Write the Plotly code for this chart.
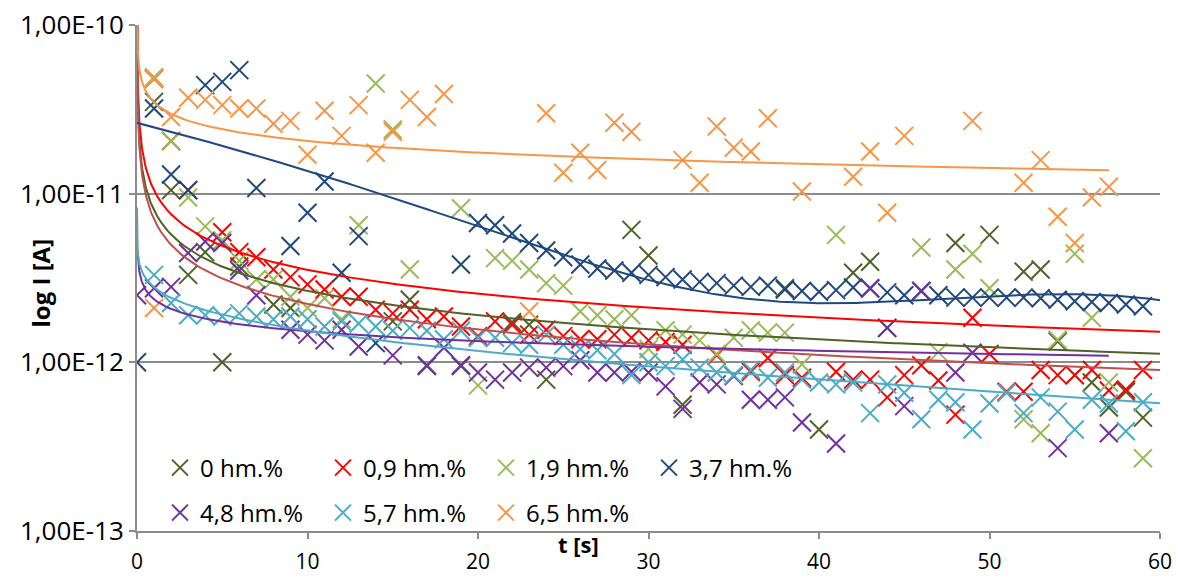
import numpy as np
import plotly.graph_objects as go

# ---------------- data ----------------
names = ["0 hm.%", "0,9 hm.%", "1,9 hm.%", "3,7 hm.%", "4,8 hm.%", "5,7 hm.%", "6,5 hm.%"]
colors = ["#4F6228", "#FF0000", "#9BBB59", "#1F497D", "#7030A0", "#4BACC6", "#F79646"]
trend_colors = ["#4F6228", "#FF0000", "#C0504D", "#1F497D", "#7030A0", "#4BACC6", "#F79646"]

t_0 = [1, 2, 3, 4, 5, 6, 8, 9, 15, 16, 17, 19, 22, 23, 24, 29, 30, 32, 38, 40, 42, 43, 44, 48, 50, 52, 53, 54, 55, 56, 57, 58, 59]
i_0 = [3.5e-11, 1.05e-11, 3.3e-12, 4.5e-12, 1.0e-12, 3.7e-12, 2.2e-12, 2.1e-12, 1.75e-12, 2.35e-12, 9.5e-13, 9.5e-13,
       1.73e-12, 1.67e-12, 7.9e-13, 6.1e-12, 4.3e-12, 5.6e-13, 2.75e-12, 4.0e-13, 3.4e-12, 3.95e-12, 1.6e-12, 5.1e-12,
       5.7e-12, 3.45e-12, 3.55e-12, 1.33e-12, 8.4e-13, 7.6e-13, 5.4e-13, 6.7e-13, 4.7e-13]

t_09 = [1, 2, 3, 5, 6, 7, 8, 9, 10, 11, 12, 13, 14, 15, 16, 17, 18, 19, 20, 21, 22, 23, 24, 25, 26, 27, 28, 29, 30, 31, 32,
        34, 36, 37, 38, 39, 41, 42, 43, 44, 45, 46, 47, 48, 49, 50, 51, 52, 53, 54, 55, 56, 57, 58, 59]
i_09 = [4.8e-11, 2.05e-11, 1.05e-11, 5.9e-12, 4.5e-12, 4.2e-12, 3.55e-12, 3.2e-12, 2.9e-12, 2.7e-12, 2.45e-12, 2.45e-12,
        2.05e-12, 1.95e-12, 2.05e-12, 1.8e-12, 1.87e-12, 1.63e-12, 1.43e-12, 1.75e-12, 1.67e-12, 1.46e-12, 1.56e-12,
        1.43e-12, 1.37e-12, 1.37e-12, 1.46e-12, 1.4e-12, 1.35e-12, 1.32e-12, 1.27e-12, 1.1e-12, 8.8e-13, 1.06e-12,
        8.4e-13, 8.1e-13, 8.8e-13, 7.9e-13, 7.9e-13, 6.2e-13, 8.4e-13, 9.6e-13, 7.8e-13, 4.9e-13, 1.84e-12, 1.12e-12,
        6.7e-13, 6.7e-13, 9.0e-13, 8.4e-13, 8.4e-13, 9.0e-13, 6.8e-13, 6.9e-13, 9.0e-13]

t_19 = [1, 2, 3, 4, 5, 6, 7, 8, 9, 10, 11, 12, 13, 14, 15, 16, 19, 20, 21, 22, 23, 24, 25, 26, 27, 28, 29, 30, 31, 32, 33,
        34, 35, 36, 37, 38, 39, 41, 46, 47, 48, 49, 50, 52, 53, 54, 55, 56, 57, 59]
i_19 = [4.9e-11, 2.05e-11, 9.5e-12, 6.4e-12, 5.3e-12, 4.0e-12, 3.1e-12, 3.1e-12, 2.45e-12, 2.1e-12, 2.4e-12, 1.8e-12,
        6.5e-12, 4.5e-11, 2.4e-11, 3.55e-12, 8.2e-12, 7.3e-13, 4.15e-12, 4.0e-12, 3.55e-12, 2.95e-12, 2.85e-12, 2.0e-12,
        1.9e-12, 1.8e-12, 1.9e-12, 1.2e-12, 1.55e-12, 1.46e-12, 1.35e-12, 1.12e-12, 1.4e-12, 1.55e-12, 1.5e-12, 1.5e-12,
        9.7e-13, 5.7e-12, 4.8e-12, 1.15e-12, 3.55e-12, 4.4e-12, 2.75e-12, 4.6e-13, 3.8e-13, 1.36e-12, 4.4e-12, 1.84e-12,
        7.6e-13, 2.7e-13]

t_37 = [0, 1, 2, 3, 4, 5, 6, 7, 9, 10, 11, 12, 13, 14, 19, 20, 21, 22, 23, 24, 25, 26, 27, 28, 29, 30, 31, 32, 33, 34, 35,
        36, 37, 38, 39, 40, 41, 42, 43, 44, 45, 46, 47, 48, 49, 50, 51, 52, 53, 54, 55, 56, 57, 58, 59]
i_37 = [1.0e-12, 3.2e-11, 1.3e-11, 1.05e-11, 4.4e-11, 4.6e-11, 5.4e-11, 1.08e-11, 4.9e-12, 7.7e-12, 1.18e-11, 3.4e-12,
        5.6e-12, 1.3e-12, 3.8e-12, 6.7e-12, 6.5e-12, 5.8e-12, 5.1e-12, 4.6e-12, 4.2e-12, 3.8e-12, 3.6e-12, 3.5e-12,
        3.4e-12, 3.3e-12, 3.2e-12, 3.1e-12, 3.0e-12, 2.95e-12, 2.85e-12, 2.8e-12, 2.85e-12, 2.7e-12, 2.65e-12, 2.62e-12,
        2.68e-12, 2.78e-12, 2.74e-12, 2.6e-12, 2.5e-12, 2.65e-12, 2.5e-12, 2.42e-12, 2.42e-12, 2.42e-12, 2.42e-12,
        2.42e-12, 2.4e-12, 2.35e-12, 2.3e-12, 2.28e-12, 2.25e-12, 2.2e-12, 2.15e-12]

t_48 = [0, 1, 2, 3, 4, 5, 6, 7, 9, 10, 11, 12, 13, 15, 17, 18, 19, 20, 21, 22, 23, 24, 25, 26, 27, 28, 29, 30, 31, 32, 33,
        34, 35, 36, 37, 38, 39, 41, 43, 44, 45, 46, 48, 49, 54, 57]
i_48 = [2.5e-12, 2.75e-12, 2.8e-12, 4.45e-12, 5.2e-12, 5.1e-12, 3.5e-12, 2.5e-12, 1.56e-12, 1.46e-12, 1.35e-12, 1.56e-12,
        1.24e-12, 1.1e-12, 9.6e-13, 1.22e-12, 9.6e-13, 8.7e-13, 7.9e-13, 8.7e-13, 9.3e-13, 9.3e-13, 9.5e-13, 1.03e-12,
        8.7e-13, 8.7e-13, 8.8e-13, 8.7e-13, 7.2e-13, 5.3e-13, 7.6e-13, 7.4e-13, 8.3e-13, 6.0e-13, 6.0e-13, 6.2e-13,
        4.4e-13, 3.3e-13, 2.75e-12, 1.6e-12, 5.5e-13, 2.65e-12, 8.7e-13, 1.14e-12, 3.1e-13, 3.8e-13]

t_57 = list(range(1, 60))
i_57 = [3.3e-12, 2.25e-12, 1.9e-12, 1.9e-12, 1.87e-12, 1.95e-12, 1.87e-12, 1.8e-12, 1.87e-12, 1.8e-12,
        1.63e-12, 1.75e-12, 1.7e-12, 1.63e-12, 1.54e-12, 1.6e-12, 1.54e-12, 1.37e-12, 1.54e-12, 1.4e-12,
        1.4e-12, 1.3e-12, 1.27e-12, 1.46e-12, 1.27e-12, 1.2e-12, 1.18e-12, 1.12e-12, 8.4e-13, 1.0e-12,
        9.5e-13, 1.04e-12, 9.3e-13, 8.7e-13, 8.4e-13, 9.0e-13, 8.1e-13, 8.7e-13, 7.9e-13, 7.6e-13,
        7.4e-13, 7.6e-13, 5.0e-13, 7.4e-13, 6.6e-13, 4.6e-13, 6.0e-13, 5.8e-13, 4.0e-13, 5.7e-13,
        6.6e-13, 5.0e-13, 6.2e-13, 5.1e-13, 4.0e-13, 6.0e-13, 5.7e-13, 3.9e-13, 5.8e-13]

t_65 = [1, 1, 2, 3, 4, 5, 6, 7, 8, 9, 10, 11, 12, 13, 14, 15, 16, 17, 18, 23, 24, 25, 26, 27, 28, 29, 32, 33, 34, 35, 36,
        37, 39, 42, 43, 44, 45, 49, 52, 53, 54, 55, 56, 57]
i_65 = [4.8e-11, 2.1e-12, 2.85e-11, 3.7e-11, 3.6e-11, 3.35e-11, 3.2e-11, 3.2e-11, 2.6e-11, 2.7e-11, 1.7e-11, 3.1e-11,
        2.2e-11, 3.35e-11, 1.75e-11, 2.33e-11, 3.6e-11, 2.85e-11, 3.9e-11, 2.0e-12, 3.0e-11, 1.33e-11, 1.75e-11,
        1.38e-11, 2.63e-11, 2.33e-11, 1.58e-11, 1.16e-11, 2.5e-11, 1.87e-11, 1.78e-11, 2.8e-11, 1.03e-11, 1.26e-11,
        1.78e-11, 7.7e-12, 2.2e-11, 2.7e-11, 1.16e-11, 1.58e-11, 7.3e-12, 5.1e-12, 9.5e-12, 1.1e-11]

# trendline readings (t, I), and trendline type per series
tr_0_t = [5.5, 19.5, 40, 60]
tr_0_v = [3.55e-12, 1.9e-12, 1.37e-12, 1.13e-12]
tr_09_t = [2.5, 7.4, 12.3, 19.5, 40, 60]
tr_09_v = [7.0e-12, 4.05e-12, 3.1e-12, 2.5e-12, 1.87e-12, 1.56e-12]
tr_19_t = [4.5, 19.5, 40, 60]
tr_19_v = [3.3e-12, 1.6e-12, 1.1e-12, 0.9e-12]
tr_37_t = [0, 5, 10.5, 15, 20, 23.4, 25.4, 27.3, 29.3, 31.3, 35.2, 39, 45.3, 49.2, 53.1, 57, 60]
tr_37_v = [2.64e-11, 1.9e-11, 1.32e-11, 9.4e-12, 6.8e-12, 4.86e-12, 4.06e-12, 3.54e-12, 3.17e-12, 2.88e-12,
           2.46e-12, 2.25e-12, 2.30e-12, 2.46e-12, 2.56e-12, 2.52e-12, 2.30e-12]
tr_48_t = [2.5, 7.4, 15.1, 19.5, 40, 57]
tr_48_v = [1.9e-12, 1.7e-12, 1.43e-12, 1.37e-12, 1.15e-12, 1.07e-12]
tr_57_t = [5.5, 11.3, 20, 40, 60]
tr_57_v = [1.8e-12, 1.54e-12, 1.21e-12, 0.79e-12, 0.53e-12]
tr_65_t = [1.5, 5.5, 11.3, 20, 40, 57]
tr_65_v = [3.1e-11, 2.4e-11, 2.05e-11, 1.75e-11, 1.48e-11, 1.36e-11]

trend_kind = ["power", "power", "power", "poly", "power", "log", "power"]
trend_start = [1e-4, 1e-4, 1e-4, 0.0, 0.03, 4e-5, 1e-4]
trend_end = [60, 60, 60, 60, 57, 60, 57]

y_tickvals = [1e-13, 1e-12, 1e-11, 1e-10]
y_ticktext = ["1,00E-13", "1,00E-12", "1,00E-11", "1,00E-10"]
x_tickvals = [0, 10, 20, 30, 40, 50, 60]

series_t = [t_0, t_09, t_19, t_37, t_48, t_57, t_65]
series_i = [i_0, i_09, i_19, i_37, i_48, i_57, i_65]
trend_t = [tr_0_t, tr_09_t, tr_19_t, tr_37_t, tr_48_t, tr_57_t, tr_65_t]
trend_v = [tr_0_v, tr_09_v, tr_19_v, tr_37_v, tr_48_v, tr_57_v, tr_65_v]

FONT = "Open Sans"
fig = go.Figure()

for k in range(7):
    fig.add_trace(go.Scatter(
        x=series_t[k], y=series_i[k], mode="markers", name=names[k],
        legend="legend" if k < 4 else "legend2",
        marker=dict(symbol="x-thin", size=18, color=colors[k],
                    line=dict(width=2, color=colors[k])),
        hoverinfo="skip"))


def trend_curve(kind, tt, vv, t0, t1):
    tt = np.asarray(tt, float)
    vv = np.asarray(vv, float)
    if kind == "poly":
        grid = np.linspace(t0, t1, 400)
        c = np.polyfit(tt, vv, 4)
        return grid, np.polyval(c, grid)
    grid = np.concatenate([np.geomspace(t0, 1.0, 120), np.linspace(1.0, t1, 300)[1:]])
    if kind == "power":
        c = np.polyfit(np.log(tt), np.log(vv), 1)
        return grid, np.exp(np.polyval(c, np.log(grid)))
    c = np.polyfit(np.log(tt), vv, 1)
    return grid, np.polyval(c, np.log(grid))


for k in range(7):
    gx, gy = trend_curve(trend_kind[k], trend_t[k], trend_v[k], trend_start[k], trend_end[k])
    fig.add_trace(go.Scatter(x=gx, y=gy, mode="lines", showlegend=False,
                             line=dict(color=trend_colors[k], width=2), hoverinfo="skip"))

L, R, T, B = 137, 17, 25, 45
W, H = 1177, 576
pw, ph = W - L - R, H - T - B


def px2x(p):
    return (p - L) / pw


def px2y(p):
    return (H - B - p) / ph


legend_common = dict(orientation="h", xanchor="left", yanchor="middle",
                     entrywidth=118, entrywidthmode="pixels",
                     font=dict(family=FONT, size=24, color="#000000"),
                     bgcolor="rgba(0,0,0,0)", borderwidth=0, itemwidth=30,
                     tracegroupgap=0)

fig.update_layout(
    width=W, height=H,
    margin=dict(l=L, r=R, t=T, b=B, autoexpand=False),
    paper_bgcolor="white", plot_bgcolor="white",
    font=dict(family=FONT, size=22, color="#000000"),
    legend=dict(x=px2x(160), y=px2y(468), **legend_common),
    legend2=dict(x=px2x(160), y=px2y(513), **legend_common),
    xaxis=dict(range=[0, 60], tickvals=x_tickvals, ticks="outside", ticklen=6, tickwidth=2,
               tickcolor="#8c8c8c", showline=True, linecolor="#8c8c8c", linewidth=2,
               showgrid=False, zeroline=False, ticklabelstandoff=5, automargin=False,
               tickfont=dict(family=FONT, size=21)),
    yaxis=dict(type="log", range=[-13, -10], tickvals=y_tickvals, ticktext=y_ticktext,
               ticks="outside", ticklen=6, tickwidth=2, tickcolor="#8c8c8c",
               showline=True, linecolor="#8c8c8c", linewidth=2, automargin=False,
               showgrid=True, gridcolor="#8c8c8c", gridwidth=2, zeroline=False,
               tickfont=dict(family=FONT, size=26)),
    annotations=[
        dict(text="<b>log I [A]</b>", x=px2x(22), y=px2y(283), xref="paper", yref="paper",
             showarrow=False, textangle=-90, font=dict(family=FONT, size=24)),
        dict(text="<b>t [s]</b>", x=px2x(578), y=px2y(561), xref="paper", yref="paper",
             showarrow=False, font=dict(family=FONT, size=22)),
    ],
)

fig.write_html("out.html")
